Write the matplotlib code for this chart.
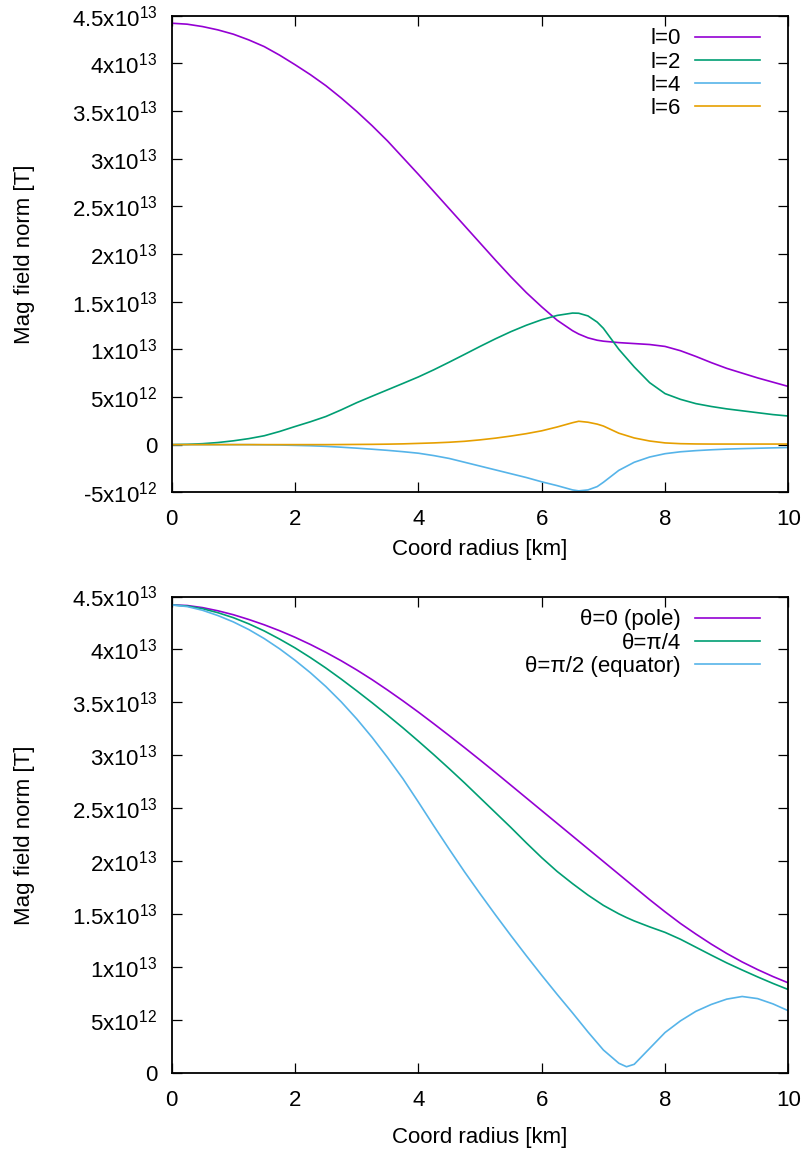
import numpy as np
import matplotlib
matplotlib.use("Agg")
import matplotlib.pyplot as plt
from matplotlib.ticker import FuncFormatter, MultipleLocator

plt.rcParams['font.family'] = ['Liberation Sans', 'DejaVu Sans']
plt.rcParams['mathtext.fontset'] = 'custom'
plt.rcParams['mathtext.rm'] = 'Liberation Sans'
plt.rcParams['mathtext.it'] = 'Liberation Sans'
plt.rcParams['mathtext.bf'] = 'Liberation Sans'

# ---------------- data (field values in units of 1e12 T) ----------------
x_top = [0, 0.25, 0.5, 0.75, 1, 1.25, 1.5, 1.75, 2, 2.25, 2.5, 2.75, 3, 3.25, 3.5,
         3.75, 4, 4.25, 4.5, 4.75, 5, 5.25, 5.5, 5.75, 6, 6.25, 6.5, 6.6, 6.75, 6.9,
         7, 7.25, 7.5, 7.75, 8, 8.25, 8.5, 8.75, 9, 9.25, 9.5, 9.75, 10]
l0 = [44.2, 44.1, 43.85, 43.5, 43.05, 42.45, 41.75, 40.85, 39.85, 38.8, 37.65, 36.35,
      34.95, 33.45, 31.85, 30.1, 28.35, 26.55, 24.75, 22.95, 21.15, 19.35, 17.6, 15.95,
      14.45, 13.05, 11.95, 11.6, 11.2, 10.95, 10.85, 10.7, 10.6, 10.5, 10.3, 9.85,
      9.25, 8.6, 8.0, 7.5, 7.0, 6.55, 6.1]
l2 = [0, 0.03, 0.1, 0.22, 0.4, 0.63, 0.93, 1.38, 1.9, 2.4, 2.95, 3.65, 4.4, 5.08,
      5.75, 6.42, 7.1, 7.85, 8.65, 9.47, 10.3, 11.1, 11.85, 12.52, 13.1, 13.55, 13.8,
      13.78, 13.5, 12.85, 12.2, 10.0, 8.15, 6.5, 5.35, 4.75, 4.3, 4.0, 3.75, 3.55,
      3.35, 3.15, 3.0]
l4 = [0, 0, 0, 0, 0, 0, -0.02, -0.04, -0.08, -0.12, -0.18, -0.27, -0.37, -0.48, -0.6,
      -0.74, -0.9, -1.15, -1.45, -1.85, -2.25, -2.65, -3.05, -3.45, -3.9, -4.3, -4.75,
      -4.85, -4.75, -4.4, -3.95, -2.7, -1.85, -1.3, -0.95, -0.75, -0.63, -0.54, -0.47,
      -0.42, -0.38, -0.34, -0.3]
l6 = [0, 0, 0, 0, 0, 0, 0, 0, 0, 0, 0, 0.01, 0.02, 0.03, 0.05, 0.08, 0.13, 0.18,
      0.25, 0.35, 0.5, 0.68, 0.9, 1.15, 1.45, 1.85, 2.3, 2.45, 2.35, 2.15, 1.95, 1.2,
      0.7, 0.38, 0.18, 0.1, 0.07, 0.06, 0.06, 0.06, 0.06, 0.06, 0.06]
top_labels = ['l=0', 'l=2', 'l=4', 'l=6']

x_bot = [0, 0.25, 0.5, 0.75, 1, 1.25, 1.5, 1.75, 2, 2.25, 2.5, 2.75, 3, 3.25, 3.5,
         3.75, 4, 4.25, 4.5, 4.75, 5, 5.25, 5.5, 5.75, 6, 6.25, 6.5, 6.75, 7, 7.25,
         7.375, 7.5, 7.75, 8, 8.25, 8.5, 8.75, 9, 9.25, 9.5, 9.75, 10]
pole = [44.2, 44.15, 43.95, 43.65, 43.28, 42.83, 42.33, 41.77, 41.15, 40.47, 39.73,
        38.93, 38.07, 37.15, 36.17, 35.15, 34.09, 32.99, 31.87, 30.73, 29.57, 28.39,
        27.19, 25.99, 24.79, 23.59, 22.39, 21.19, 19.99, 18.79, 18.19, 17.59, 16.39,
        15.24, 14.14, 13.14, 12.19, 11.31, 10.51, 9.79, 9.13, 8.53]
quarter = [44.2, 44.1, 43.85, 43.47, 43.0, 42.42, 41.75, 40.98, 40.15, 39.23, 38.25,
           37.2, 36.1, 34.97, 33.8, 32.6, 31.35, 30.07, 28.75, 27.4, 26.0, 24.6, 23.2,
           21.75, 20.35, 19.05, 17.9, 16.82, 15.85, 15.05, 14.7, 14.38, 13.82, 13.3,
           12.65, 11.9, 11.15, 10.42, 9.75, 9.1, 8.48, 7.9]
equator = [44.2, 44.05, 43.7, 43.2, 42.6, 41.88, 41.03, 40.06, 38.98, 37.8, 36.5,
           35.05, 33.45, 31.7, 29.8, 27.8, 25.6, 23.35, 21.15, 19.0, 16.95, 14.95,
           13.0, 11.1, 9.25, 7.45, 5.7, 3.9, 2.2, 0.95, 0.62, 0.85, 2.35, 3.85, 4.95,
           5.85, 6.5, 7.0, 7.25, 7.05, 6.55, 5.9]
bot_labels = ['θ=0 (pole)', 'θ=π/4', 'θ=π/2 (equator)']

colors = ['#9400d3', '#009e73', '#56b4e9', '#e69f00']
x_ticks = [0, 2, 4, 6, 8, 10]


def yfmt(v, pos):
    if abs(v) < 1:
        return '0'
    e = int(np.floor(np.log10(abs(v)) + 1e-9))
    m = v / 10 ** e
    ms = ('%.1f' % m).rstrip('0').rstrip('.')
    return ms + 'x10$^{%d}$' % e


FS = 16
fig = plt.figure(figsize=(8.07, 11.51), dpi=100)
W, H = 807, 1151
left, right = 171.7 / W, 788.4 / W
axw = 788.4 - 171.7
axh = 476.7
ax1 = fig.add_axes([left, 1 - 492.3 / H, right - left, (492.3 - 15.6) / H])
ax2 = fig.add_axes([left, 1 - 1073.3 / H, right - left, (1073.3 - 596.5) / H])

sc = 1e12
for ys, lab, c in zip([l0, l2, l4, l6], top_labels, colors):
    ax1.plot(x_top, np.array(ys) * sc, color=c, lw=1.2, label=lab)
for ys, lab, c in zip([pole, quarter, equator], bot_labels, colors):
    ax2.plot(x_bot, np.array(ys) * sc, color=c, lw=1.2, label=lab)

ax1.set_ylim(-5e12, 4.5e13)
ax2.set_ylim(0, 4.5e13)
for ax, xl_off in ((ax1, 47), (ax2, 54)):
    ax.set_xlim(0, 10)
    ax.set_xticks(x_ticks)
    ax.yaxis.set_major_locator(MultipleLocator(5e12))
    ax.yaxis.set_major_formatter(FuncFormatter(yfmt))
    ax.tick_params(direction='in', top=True, right=True, length=7, width=0.9,
                   labelsize=FS)
    ax.tick_params(axis='y', pad=10.5)
    ax.tick_params(axis='x', pad=12)
    for s in ax.spines.values():
        s.set_linewidth(1.3)
    ax.set_xlabel('Coord radius [km]', fontsize=FS)
    ax.set_ylabel('Mag field norm [T]', fontsize=FS)
    ax.xaxis.set_label_coords(0.5, -xl_off / axh)
    ax.yaxis.set_label_coords((35 - 171.7) / axw, 0.5)
    ax.legend(loc='upper right', bbox_to_anchor=((769 - 171.7) / axw, 1.0 - 4 / axh),
              borderaxespad=0, frameon=False,
              markerfirst=False, fontsize=FS, handlelength=2.93,
              handletextpad=0.63, labelspacing=0.1, borderpad=0.4)

fig.savefig('out.png', dpi=100)
